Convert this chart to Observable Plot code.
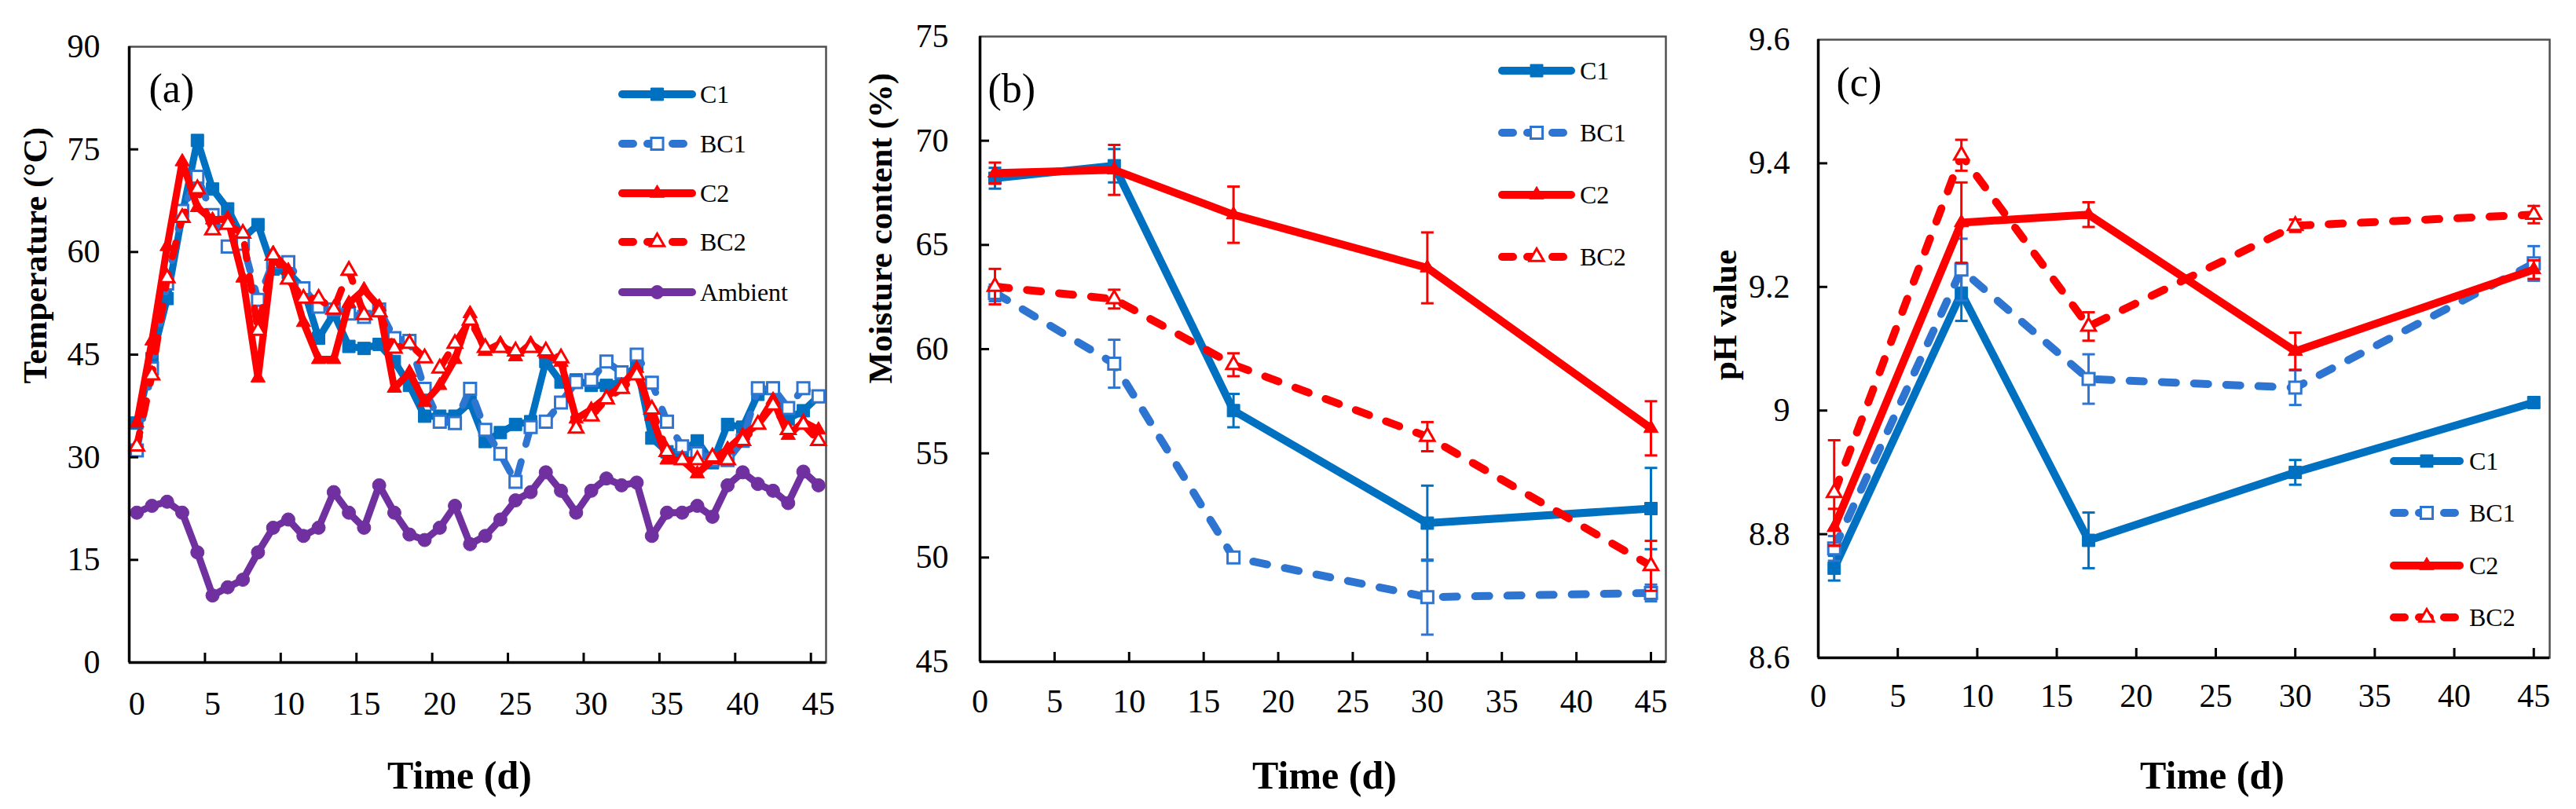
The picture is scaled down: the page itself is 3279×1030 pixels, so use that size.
<!DOCTYPE html>
<html><head><meta charset="utf-8">
<script src="https://cdn.jsdelivr.net/npm/d3@7"></script>
<script src="https://cdn.jsdelivr.net/npm/@observablehq/plot@0.6"></script>
<style>
body{margin:0;background:#fff;}
#wrap{position:relative;width:3279px;height:1030px;overflow:hidden;background:#fff;}
#wrap svg{position:absolute;top:0;}
</style></head><body><div id="wrap"></div>
<script>
// ---------- DATA ----------
const days = [0,1,2,3,4,5,6,7,8,9,10,11,12,13,14,15,16,17,18,19,20,21,22,23,24,25,26,27,28,29,30,31,32,33,34,35,36,37,38,39,40,41,42,43,44,45];
const tempC1 = [35,44.4,53.2,65.5,76.3,69.2,66.3,62,64,57.5,57,54.7,47.4,51,46.2,45.9,46.5,44,40.5,36,36,36,38,32.3,33.6,34.8,35.2,44,41,41.3,40.5,40.5,41,43.6,32.8,30.8,30.8,32.4,29.2,34.8,34.4,39.2,40.1,35.6,36.8,38.9];
const tempBC1 = [31,43,55.4,66,71,65.4,60.8,61.2,53,58.5,58.5,54.7,52,51.6,51,50.5,51.6,47.4,47,40,35.2,35,40,34,30.5,26.4,34.4,35.2,38,41,41.3,44,42.4,45,40.9,35.2,31.6,30.6,29.6,29.6,32.4,40.1,40.1,37.2,40.1,38.9];
const tempC2 = [35,47,60.8,73.2,66.5,64.7,64.9,56.2,41.6,59.8,57.3,49.7,44.3,44.3,52.5,54.5,52,40.1,42.4,38,40.5,44.3,51,45.5,46.6,44.7,46.6,45.1,43.9,35.6,37,38.8,40.5,43,36,29.6,29.6,27.6,29.6,31.2,33.2,34.8,38.4,33.2,35.2,34];
const tempBC2 = [31.6,42,56.2,65,69.2,63.2,64,62.7,48.5,59.5,56,53.2,53.2,51.6,57.3,50.8,51.2,45.9,46.6,44.5,43,46.6,50,46,46,45.5,46,45.5,44.5,34.2,36,38.5,40,42,37,30.8,29.6,29.6,30,29.6,32.4,34.8,37.6,34,34.8,32.4];
const tempAmbient = [21.9,22.9,23.5,21.9,16.1,9.8,11,12.1,16.1,19.7,20.9,18.5,19.7,24.9,21.9,19.7,25.9,21.9,18.7,17.9,19.7,22.9,17.3,18.5,20.9,23.7,24.9,27.8,25.1,21.9,25.1,26.9,25.9,26.3,18.5,21.9,21.9,22.9,21.3,25.9,27.8,26.1,25.1,23.3,27.9,25.9];

const sampleDays = [1, 9, 17, 30, 45];
const moistureC1 = [68.2, 68.8, 57.05, 51.65, 52.35];
const moistureC1Err = [0.5, 0.8, 0.8, 1.8, 1.95];
const moistureBC1 = [62.7, 59.3, 50.0, 48.1, 48.3];
const moistureBC1Err = [0.4, 1.15, 0.2, 1.8, 0.4];
const moistureC2 = [68.45, 68.6, 66.45, 63.9, 56.2];
const moistureC2Err = [0.5, 1.2, 1.35, 1.7, 1.3];
const moistureBC2 = [63.0, 62.4, 59.25, 55.8, 49.6];
const moistureBC2Err = [0.85, 0.45, 0.55, 0.7, 1.2];

const phC1 = [8.745, 9.19, 8.79, 8.90, 9.013];
const phC1Err = [0.02, 0.045, 0.045, 0.02, 0.006];
const phBC1 = [8.777, 9.228, 9.051, 9.037, 9.238];
const phBC1Err = [0.02, 0.05, 0.04, 0.028, 0.028];
const phC2 = [8.811, 9.304, 9.317, 9.096, 9.228];
const phC2Err = [0.03, 0.065, 0.02, 0.03, 0.015];
const phBC2 = [8.867, 9.413, 9.136, 9.299, 9.317];
const phBC2Err = [0.085, 0.025, 0.023, 0.01, 0.014];

const seriesNames = ["C1", "BC1", "C2", "BC2", "Ambient"];
const dayLabels = [0,5,10,15,20,25,30,35,40,45];
const tempTickMarksX = [4.5,9.5,14.5,19.5,24.5,29.5,34.5,39.5,44.5];
const dayTickMarks = [5,10,15,20,25,30,35,40,45];
const tempTicksY = [0,15,30,45,60,75,90];
const moistTicksY = [45,50,55,60,65,70,75];
const phTicksY = [8.6,8.8,9,9.2,9.4,9.6];

// ---------- STYLE ----------
const FONT = "Liberation Serif";
const styles = {
  C1: {color: "#0070C0", dashed: false, symbol: "square", filled: true, r: 9},
  BC1: {color: "#2E75D2", dashed: true, symbol: "square", filled: false, r: 8.5},
  C2: {color: "#FF0000", dashed: false, symbol: "triangle", filled: true, r: 6.8},
  BC2: {color: "#FF0000", dashed: true, symbol: "triangle", filled: false, r: 6.8},
  Ambient: {color: "#7030A0", dashed: false, symbol: "circle", filled: true, r: 8.5}
};
const capSymbol = {draw(ctx, size) { const w = Math.sqrt(size / Math.PI); ctx.moveTo(-w, 0); ctx.lineTo(w, 0); }};

function rowsFrom(xs, lists, errs) {
  const out = [];
  lists.forEach((vals, k) => {
    vals.forEach((v, i) => out.push({series: seriesNames[k], x: xs[i], y: v, e: errs ? errs[k][i] : 0}));
  });
  return out;
}

const tempRows = rowsFrom(days, [tempC1, tempBC1, tempC2, tempBC2, tempAmbient], null);
const moistRows = rowsFrom(sampleDays, [moistureC1, moistureBC1, moistureC2, moistureBC2], [moistureC1Err, moistureBC1Err, moistureC2Err, moistureBC2Err]);
const phRows = rowsFrom(sampleDays, [phC1, phBC1, phC2, phBC2], [phC1Err, phBC1Err, phC2Err, phBC2Err]);

function makePanel(c) {
  const innerW = c.width - c.mLeft - c.mRight;
  const innerH = c.height - c.mTop - c.mBottom;
  const marks = [Plot.frame({stroke: "#505050", strokeWidth: 2.5})];
  for (const name of c.names) {
    const s = styles[name];
    const data = c.rows.filter(r => r.series === name);
    marks.push(Plot.line(data, {x: "x", y: "y", stroke: s.color, strokeWidth: c.lineW,
      strokeDasharray: s.dashed ? c.dash : undefined, strokeLinecap: "round", strokeLinejoin: "round"}));
    if (c.errors) {
      marks.push(Plot.ruleX(data, {x: "x", y1: d => d.y - d.e, y2: d => d.y + d.e, stroke: s.color, strokeWidth: 3}));
      marks.push(Plot.dot(data, {x: "x", y: d => d.y + d.e, symbol: capSymbol, r: 8, stroke: s.color, strokeWidth: 3, fill: "none"}));
      marks.push(Plot.dot(data, {x: "x", y: d => d.y - d.e, symbol: capSymbol, r: 8, stroke: s.color, strokeWidth: 3, fill: "none"}));
    }
    marks.push(Plot.dot(data, {x: "x", y: "y", symbol: s.symbol, r: s.r,
      fill: s.filled ? s.color : "white", stroke: s.color, strokeWidth: s.filled ? 1 : 3}));
  }
  marks.push(
    Plot.ruleX([c.xDomain[0]], {stroke: "black", strokeWidth: 3.5}),
    Plot.ruleY([c.yDomain[0]], {stroke: "black", strokeWidth: 3.5}),
    Plot.tickX(c.xTickMarks, {x: d => d, insetTop: innerH - 12, stroke: "black", strokeWidth: 3}),
    Plot.tickY(c.yTickMarks, {y: d => d, insetRight: innerW - 12, stroke: "black", strokeWidth: 3}),
    Plot.axisX(c.xLabels, {tickSize: 0, tickPadding: c.xPad, fontSize: 42, label: null, tickFormat: d => String(d)}),
    Plot.axisY(c.yLabels, {tickSize: 0, tickPadding: c.yPad, fontSize: 42, label: null, tickFormat: d => String(d)}),
    Plot.text([c.yTitle], {text: d => d, frameAnchor: "left", rotate: -90, dx: c.yTitleDx, dy: c.yTitleDy, fontSize: 43, fontWeight: "bold"}),
    Plot.text([c.xTitle], {text: d => d, frameAnchor: "bottom", lineAnchor: "top", dx: c.xTitleDx, dy: c.xTitleDy, fontSize: 50, fontWeight: "bold"}),
    Plot.text([c.letter], {text: d => d, frameAnchor: "top-left", textAnchor: "start", lineAnchor: "top", dx: c.letterDx, dy: c.letterDy, fontSize: 52})
  );
  const svg = Plot.plot({
    width: c.width, height: c.height,
    marginTop: c.mTop, marginBottom: c.mBottom, marginLeft: c.mLeft, marginRight: c.mRight,
    x: {domain: c.xDomain, label: null},
    y: {domain: c.yDomain, label: null},
    style: {fontFamily: FONT, color: "black", background: "transparent", overflow: "visible"},
    marks
  });
  svg.style.left = c.left + "px";
  // legend
  const L = c.legend;
  const g = d3.select(svg).append("g").attr("font-family", FONT).attr("font-size", 32).attr("text-anchor", "start");
  c.names.forEach((name, i) => {
    const s = styles[name];
    const y = L.rows[i];
    g.append("line").attr("x1", L.x0).attr("x2", L.x1).attr("y1", y).attr("y2", y)
      .attr("stroke", s.color).attr("stroke-width", L.lw).attr("stroke-linecap", "round")
      .attr("stroke-dasharray", s.dashed ? L.dash : null);
    const symType = s.symbol === "square" ? d3.symbolSquare : s.symbol === "triangle" ? d3.symbolTriangle : d3.symbolCircle;
    g.append("path").attr("transform", `translate(${(L.x0 + L.x1) / 2},${y})`)
      .attr("d", d3.symbol(symType, Math.PI * s.r * s.r)())
      .attr("fill", s.filled ? s.color : "white").attr("stroke", s.color).attr("stroke-width", s.filled ? 1 : 3);
    g.append("text").attr("x", L.textX).attr("y", y).attr("dy", "0.35em").attr("fill", "black")
      .attr("text-anchor", "start").text(name);
  });
  document.getElementById("wrap").appendChild(svg);
}

makePanel({
  left: 0, width: 1080, height: 1030, mTop: 59, mBottom: 187, mLeft: 164, mRight: 29,
  xDomain: [-0.5, 45.5], yDomain: [0, 90], rows: tempRows, names: seriesNames,
  lineW: 9, dash: "18,23", errors: false,
  xLabels: dayLabels, xTickMarks: tempTickMarksX, yLabels: tempTicksY, yTickMarks: [15,30,45,60,75],
  xPad: 37, yPad: 37,
  yTitle: "Temperature (°C)", yTitleDx: -119, yTitleDy: 37,
  xTitle: "Time (d)", xTitleDx: -23, xTitleDy: 125,
  letter: "(a)", letterDx: 25, letterDy: 34,
  legend: {x0: 792, x1: 881, textX: 891, rows: [120, 183, 246, 308, 372], lw: 10, dash: "14,18"}
});

makePanel({
  left: 1080, width: 1100, height: 1030, mTop: 46, mBottom: 188, mLeft: 167, mRight: 60,
  xDomain: [0, 46], yDomain: [45, 75], rows: moistRows, names: ["C1", "BC1", "C2", "BC2"],
  lineW: 10, dash: "18,23", errors: true,
  xLabels: dayLabels, xTickMarks: dayTickMarks, yLabels: moistTicksY, yTickMarks: [50,55,60,65,70],
  xPad: 35, yPad: 40,
  yTitle: "Moisture content (%)", yTitleDx: -126, yTitleDy: 44,
  xTitle: "Time (d)", xTitleDx: 2, xTitleDy: 126,
  letter: "(b)", letterDx: 10, letterDy: 47,
  legend: {x0: 832, x1: 920, textX: 931, rows: [90, 169, 248, 327], lw: 10, dash: "14,18"}
});

makePanel({
  left: 2180, width: 1099, height: 1030, mTop: 50, mBottom: 193, mLeft: 134, mRight: 34,
  xDomain: [0, 46], yDomain: [8.6, 9.6], rows: phRows, names: ["C1", "BC1", "C2", "BC2"],
  lineW: 10, dash: "18,23", errors: true,
  xLabels: dayLabels, xTickMarks: dayTickMarks, yLabels: phTicksY, yTickMarks: [8.8, 9, 9.2, 9.4],
  xPad: 33, yPad: 36,
  yTitle: "pH value", yTitleDx: -118, yTitleDy: 40,
  xTitle: "Time (d)", xTitleDx: 36, xTitleDy: 131,
  letter: "(c)", letterDx: 23, letterDy: 35,
  legend: {x0: 867, x1: 951, textX: 963, rows: [587, 653, 720, 786], lw: 10, dash: "14,18"}
});
</script></body></html>
